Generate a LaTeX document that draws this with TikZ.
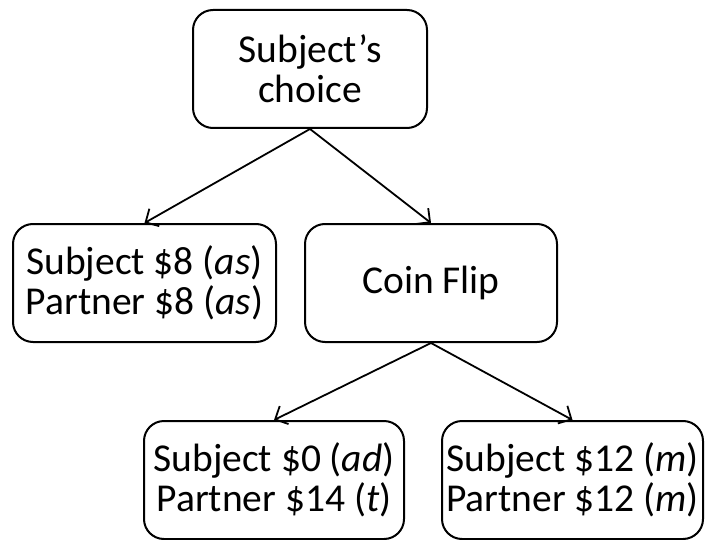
\documentclass[tikz,border=0pt]{standalone}
\usepackage{fontspec}
\setmainfont{Carlito}
\usetikzlibrary{positioning,arrows.meta}

\begin{document}
\begin{tikzpicture}[x=1pt, y=-1pt, every node/.style={font=\fontsize{39.5}{40}\selectfont},
    box/.style={draw, line width=2pt, rounded corners=20pt, align=center, inner sep=0pt, minimum height=118pt}]
    \useasboundingbox (0,0) rectangle (706,540);
    \node[box, minimum width=234pt] (choice) at (310,69) {Subject's\\choice};
    \node[box, minimum width=263pt] (equal) at (144.5,283) {Subject \$8 (\textit{as})\\Partner \$8 (\textit{as})};
    \node[box, minimum width=252pt] (coin) at (431,283) {Coin Flip};
    \node[box, minimum width=260pt] (loss) at (274,480) {Subject \$0 (\textit{ad})\\Partner \$14 (\textit{t})};
    \node[box, minimum width=261pt] (split) at (572.5,480) {Subject \$12 (\textit{m})\\Partner \$12 (\textit{m})};
    \draw[-{Straight Barb[length=10pt,width=20pt]}, line width=1.8pt] (choice.south) -- (equal.north);
    \draw[-{Straight Barb[length=10pt,width=20pt]}, line width=1.8pt] (choice.south) -- (coin.north);
    \draw[-{Straight Barb[length=10pt,width=20pt]}, line width=1.8pt] (coin.south) -- (loss.north);
    \draw[-{Straight Barb[length=10pt,width=20pt]}, line width=1.8pt] (coin.south) -- (split.north);
  \end{tikzpicture}
\end{document}
